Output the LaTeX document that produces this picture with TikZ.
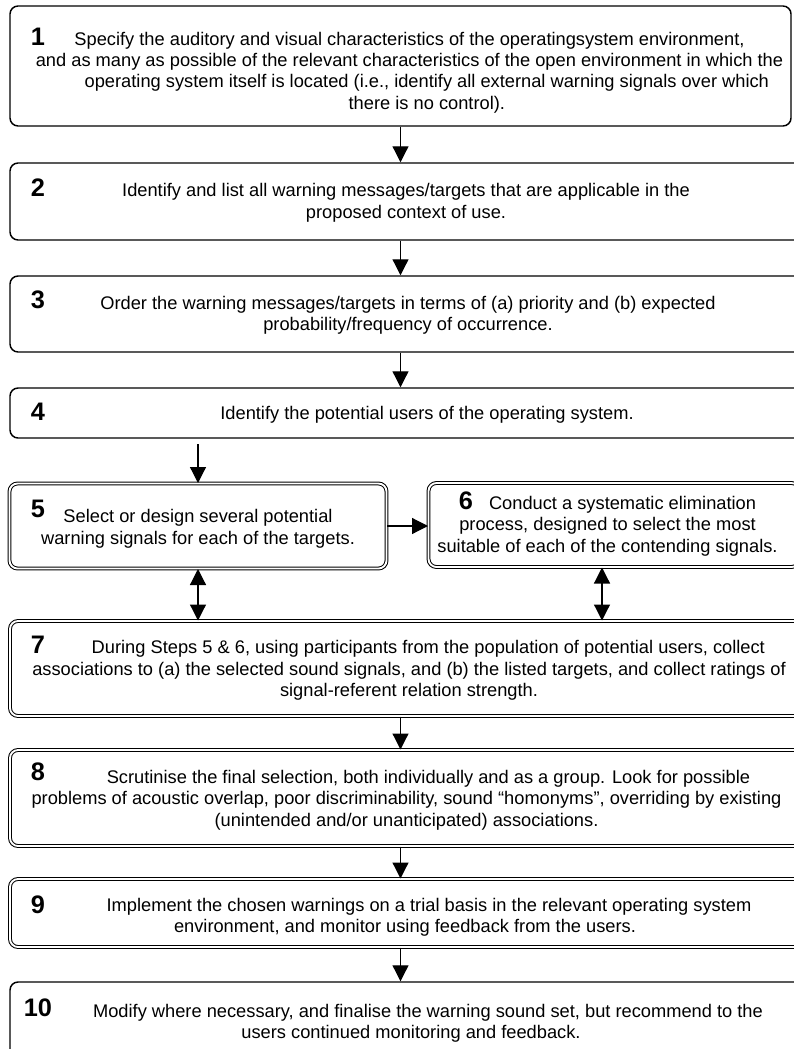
\documentclass[tikz,border=0pt]{standalone}
\usepackage{fontspec}
\setmainfont{Liberation Sans}
\usetikzlibrary{arrows.meta}

\begin{document}
\begin{tikzpicture}
  [x=0.75pt, y=-0.75pt]
  \tikzstyle{box} = [draw=black, rounded corners=6pt, inner sep=0pt];
  \tikzstyle{single_box} = [box, line width=1.1pt];
  \tikzstyle{double_box} = [box, line width=0.75pt, double, double distance=1.4pt];
  \tikzstyle{wide_box} = [minimum width=615pt];
  \tikzstyle{txt} = [align=center, inner sep=0pt, font=\fontsize{13.7}{16.1}\selectfont];
  \tikzstyle{num} = [font=\fontsize{19}{19}\selectfont\bfseries];
  \tikzstyle{arr} = [line width=0.9pt, -{Triangle[width=12pt, length=12pt]}];
  \tikzstyle{dbl_arr} = [line width=0.9pt, {Triangle[width=12pt, length=12pt]}-{Triangle[width=12pt, length=12pt]}];

  \useasboundingbox (0, 0) rectangle (793, 1049);

  % boxes
  \node[single_box, minimum width=585.75pt, minimum height=90pt] (b1) at (400.5, 66) {};
  \node[single_box, wide_box, minimum height=57.75pt] (b2) at (420, 201.5) {};
  \node[single_box, wide_box, minimum height=57pt] (b3) at (420, 314) {};
  \node[single_box, wide_box, minimum height=37.5pt] (b4) at (420, 413) {};
  \node[double_box, minimum width=282.75pt, minimum height=63.75pt] (b5) at (198, 526) {};
  \node[double_box, minimum width=278.25pt, minimum height=63pt] (b6) at (614, 525) {};
  \node[double_box, wide_box, minimum height=71.25pt] (b7) at (420, 668.5) {};
  \node[double_box, wide_box, minimum height=72pt] (b8) at (420, 798) {};
  \node[double_box, wide_box, minimum height=51pt] (b9) at (420, 913) {};
  \node[single_box, wide_box, minimum height=58.5pt] (b10) at (420, 1021) {};

  % texts
  \node[txt] (t1) at (409.5, 72.5)
    {Specify the auditory and visual characteristics of the operatingsystem environment,\\
     and as many as possible of the relevant characteristics of the open environment in which the\\
     \hspace*{26pt}operating system itself is located (i.e., identify all external warning signals over which\\
     \hspace*{26pt}there is no control).};
  \node[txt] (t2) at (406, 203)
    {Identify and list all warning messages/targets that are applicable in the\\
     proposed context of use.};
  \node[txt] (t3) at (408, 315.5)
    {Order the warning messages/targets in terms of (a) priority and (b) expected\\
     probability/frequency of occurrence.};
  \node[txt] (t4) at (427, 415)
    {Identify the potential users of the operating system.};
  \node[txt] (t5) at (198, 529)
    {Select or design several potential\\
     warning signals for each of the targets.};
  \node[txt] (t6) at (607.5, 524)
    {{\fontsize{19}{19}\selectfont\bfseries 6}\hspace{12pt}Conduct a systematic elimination\\
     process, designed to select the most\\
     suitable of each of the contending signals.};
  \node[txt] (t7) at (409, 670.5)
    {\hspace*{29pt}During Steps 5 \& 6, using participants from the population of potential users, collect\\
     associations to (a) the selected sound signals, and (b) the listed targets, and collect ratings of\\
     signal-referent relation strength.};
  \node[txt] (t8) at (406.5, 800)
    {\hspace*{33pt}Scrutinise the final selection, both individually and as a group. Look for possible\\
     problems of acoustic overlap, poor discriminability, sound “homonyms”, overriding by existing\\
     (unintended and/or unanticipated) associations.};
  \node[txt] (t9) at (405, 917)
    {\hspace*{36pt}Implement the chosen warnings on a trial basis in the relevant operating system\\
     environment, and monitor using feedback from the users.};
  \node[txt] (t10) at (411, 1023)
    {\hspace*{25.5pt}Modify where necessary, and finalise the warning sound set, but recommend to the\\
     users continued monitoring and feedback.};

  % step numbers
  \node[num] (n1) at (38, 37) {1};
  \node[num] (n2) at (38, 188) {2};
  \node[num] (n3) at (38, 300) {3};
  \node[num] (n4) at (38, 412) {4};
  \node[num] (n5) at (38, 509) {5};
  \node[num] (n7) at (38, 645) {7};
  \node[num] (n8) at (38, 772) {8};
  \node[num] (n9) at (38, 905) {9};
  \node[num] (n10) at (38, 1008) {10};

  % arrows
  \draw[arr] (b1.south) -- (b1.south |- b2.north);
  \draw[arr] (b2.south -| b1.south) -- (b3.north -| b1.south);
  \draw[arr] (b3.south -| b1.south) -- (b4.north -| b1.south);
  \draw[arr, shorten <=4pt] (b4.south -| b5.north) -- (b5.north);
  \draw[arr] (b5.east) -- (b5.east -| b6.west);
  \draw[dbl_arr] (b5.south) -- (b5.south |- b7.north);
  \draw[dbl_arr] ([xshift=-9pt]b6.south) -- ([xshift=-9pt]b6.south |- b7.north);
  \draw[arr] (b7.south -| b1.south) -- (b8.north -| b1.south);
  \draw[arr] (b8.south -| b1.south) -- (b9.north -| b1.south);
  \draw[arr] (b9.south -| b1.south) -- (b10.north -| b1.south);

\end{tikzpicture}
\end{document}
